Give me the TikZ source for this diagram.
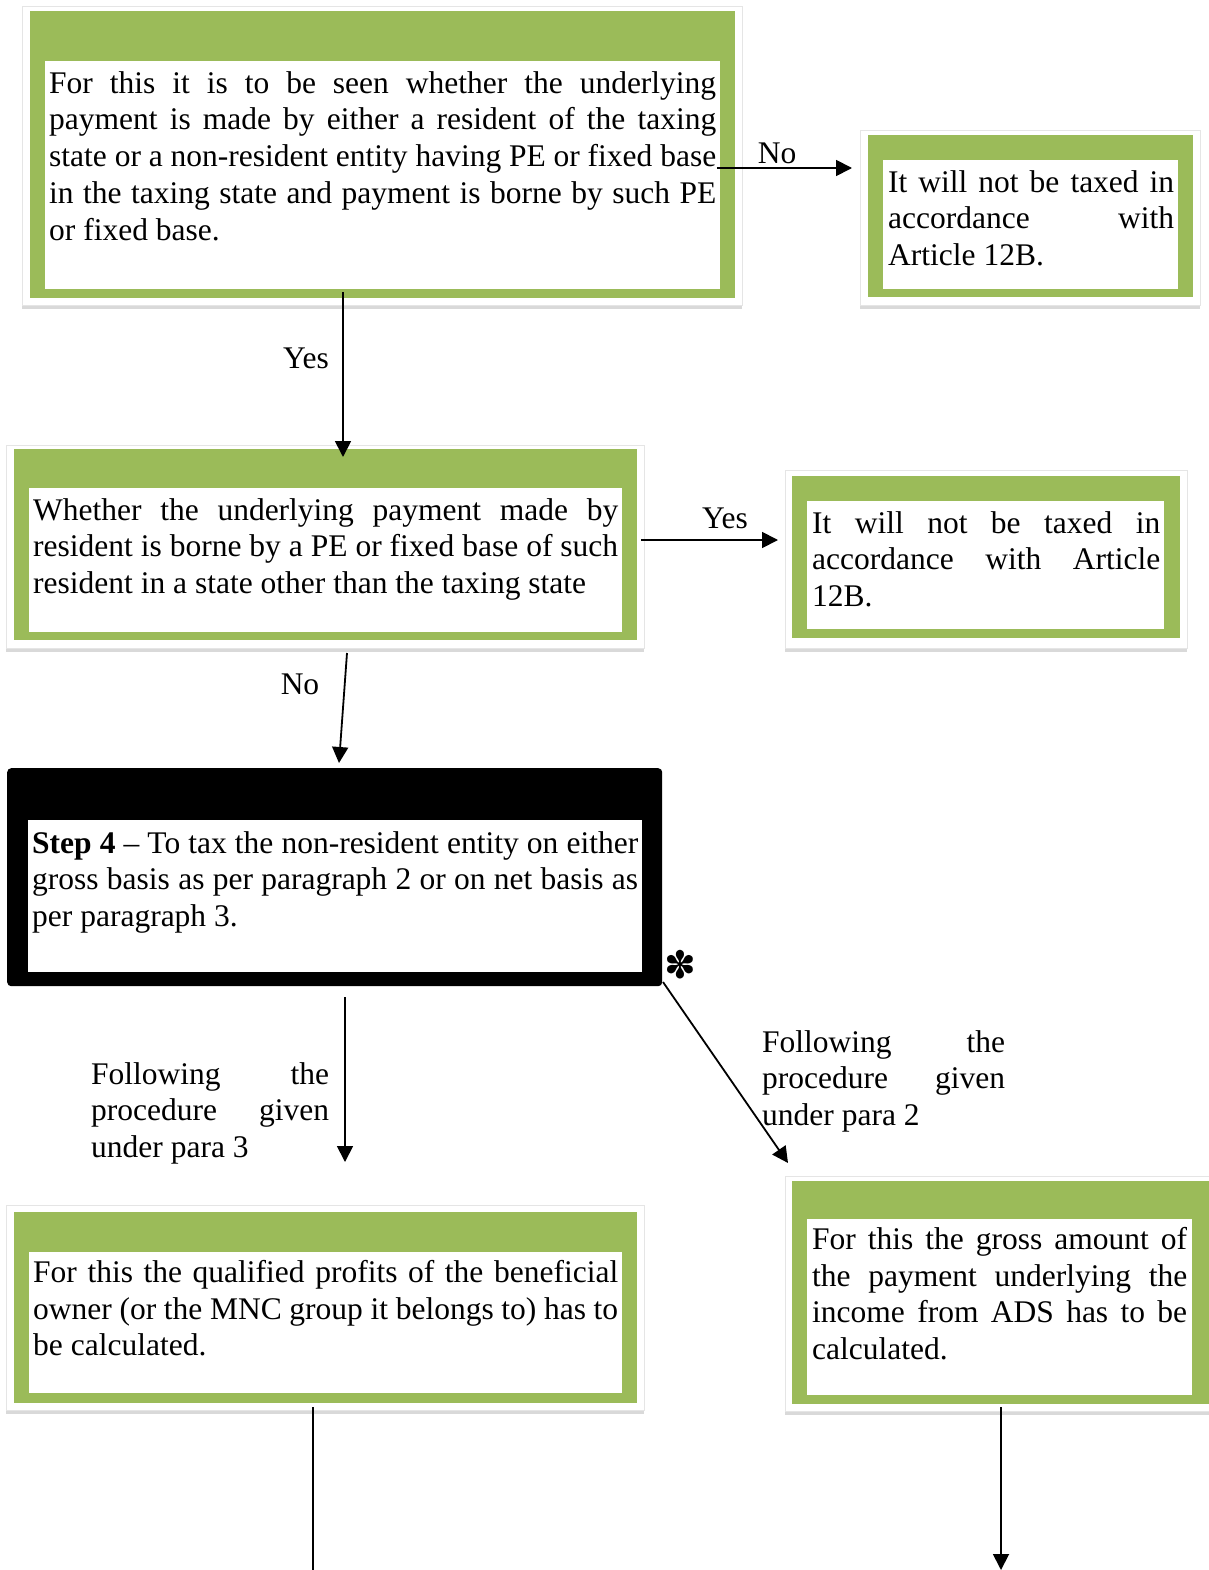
\documentclass[tikz,border=0pt]{standalone}
\usepackage{fontspec}
\setmainfont{Liberation Serif}
\newfontfamily\symfont{DejaVu Sans}
\usetikzlibrary{arrows.meta,shadows}
\definecolor{boxgreen}{HTML}{9BBB59}
\tikzset{
	frame/.style={fill=white, draw=black!10, line width=0.8pt, anchor=north west, inner sep=0pt,
		drop shadow={shadow xshift=0pt, shadow yshift=-4pt, opacity=0.3}},
	greenbox/.style={fill=boxgreen, anchor=north west, inner sep=0pt},
	innerbox/.style={fill=white, anchor=north west, inner sep=0pt},
	boxtext/.style={anchor=north west, inner sep=0pt, align=justify},
	arr/.style={line width=1.8pt, -{Triangle[length=16pt,width=16pt]}},
	lbl/.style={inner sep=0pt}
}
\begin{document}
\begin{tikzpicture}[x=1pt, y=-1pt, font=\fontsize{31.5pt}{36.8pt}\selectfont]
	\useasboundingbox (0,0) rectangle (1208,1570);

	% first question
	\node[frame, minimum width=720pt, minimum height=299pt] (f1) at (22,6) {};
	\node[greenbox, minimum width=705pt, minimum height=287pt] (q1) at (30,11) {};
	\node[innerbox, minimum width=675pt, minimum height=228pt] (w1) at (45,61) {};
	\node[boxtext, text width=667pt] (t1) at (49,71) {For this it is to be seen whether the underlying\linebreak payment is made by either a resident of the taxing\linebreak state or a non-resident entity having PE or fixed base\linebreak in the taxing state and payment is borne by such PE\linebreak or fixed base.};

	\node[frame, minimum width=340pt, minimum height=175pt] (f2) at (860,130) {};
	\node[greenbox, minimum width=325pt, minimum height=162pt] (q2) at (868,135) {};
	\node[innerbox, minimum width=295pt, minimum height=129pt] (w2) at (883,160) {};
	\node[boxtext, text width=286pt] (t2) at (888,170) {It will not be taxed in\linebreak accordance with\linebreak Article 12B.};

	% second question
	\node[frame, minimum width=638pt, minimum height=203pt] (f3) at (6,445) {};
	\node[greenbox, minimum width=623pt, minimum height=191pt] (q3) at (14,449) {};
	\node[innerbox, minimum width=593pt, minimum height=144pt] (w3) at (29,488) {};
	\node[boxtext, text width=585pt] (t3) at (33,498) {Whether the underlying payment made by\linebreak resident is borne by a PE or fixed base of such\linebreak resident in a state other than the taxing state};

	\node[frame, minimum width=402pt, minimum height=178pt] (f4) at (785,470) {};
	\node[greenbox, minimum width=388pt, minimum height=162pt] (q4) at (792,476) {};
	\node[innerbox, minimum width=357pt, minimum height=128pt] (w4) at (807,501) {};
	\node[boxtext, text width=348pt] (t4) at (812,511) {It will not be taxed in\linebreak accordance with Article\linebreak 12B.};

	% step 4
	\node[fill=black, rounded corners=4pt, anchor=north west, inner sep=0pt, minimum width=655pt, minimum height=218pt] (s4) at (7,768) {};
	\node[innerbox, minimum width=614pt, minimum height=152pt] (w5) at (28,820) {};
	\node[boxtext, text width=606pt] (t5) at (32,831) {\textbf{Step 4} -- To tax the non-resident entity on either\linebreak gross basis as per paragraph 2 or on net basis as\linebreak per paragraph 3.};
	\node[lbl, font=\symfont\fontsize{38pt}{38pt}\selectfont] (star) at (680,965) {✽};

	% para 3 and para 2
	\node[frame, minimum width=638pt, minimum height=205pt] (f6) at (6,1205) {};
	\node[greenbox, minimum width=623pt, minimum height=191pt] (q6) at (14,1212) {};
	\node[innerbox, minimum width=593pt, minimum height=141pt] (w6) at (29,1252) {};
	\node[boxtext, text width=585pt] (t6) at (33,1260) {For this the qualified profits of the beneficial\linebreak owner (or the MNC group it belongs to) has to\linebreak be calculated.};

	\node[frame, minimum width=430pt, minimum height=235pt] (f7) at (785,1176) {};
	\node[greenbox, minimum width=420pt, minimum height=223pt] (q7) at (792,1181) {};
	\node[innerbox, minimum width=385pt, minimum height=176pt] (w7) at (807,1219) {};
	\node[boxtext, text width=375pt] (t7) at (812,1227) {For this the gross amount of\linebreak the payment underlying the\linebreak income from ADS has to be\linebreak calculated.};

	\node[boxtext, text width=238pt] (l3) at (91,1062) {Following the\linebreak procedure given\linebreak under para 3};
	\node[boxtext, text width=243pt] (l2) at (762,1030) {Following the\linebreak procedure given\linebreak under para 2};

	% connectors
	\coordinate (a1) at (717,168);
	\coordinate (b1) at (852,168);
	\coordinate (a2) at (343,292);
	\coordinate (b2) at (343,457);
	\coordinate (a3) at (641,540);
	\coordinate (b3) at (778,540);
	\coordinate (a4) at (347,653);
	\coordinate (b4) at (339,763);
	\coordinate (a5) at (345,997);
	\coordinate (b5) at (345,1162);
	\coordinate (a6) at (663,982);
	\coordinate (b6) at (788,1163);
	\coordinate (a7) at (313,1407);
	\coordinate (b7) at (313,1570);
	\coordinate (a8) at (1001,1407);
	\coordinate (b8) at (1001,1570);

	\draw[arr] (a1) -- (b1);
	\draw[arr] (a2) -- (b2);
	\draw[arr] (a3) -- (b3);
	\draw[arr] (a4) -- (b4);
	\draw[arr] (a5) -- (b5);
	\draw[arr] (a6) -- (b6);
	\draw[line width=1.8pt] (a7) -- (b7);
	\draw[arr] (a8) -- (b8);

	\node[lbl] (no1) at (777,153) {No};
	\node[lbl] (yes1) at (306,358) {Yes};
	\node[lbl] (yes2) at (725,518) {Yes};
	\node[lbl] (no2) at (300,684) {No};
\end{tikzpicture}
\end{document}
